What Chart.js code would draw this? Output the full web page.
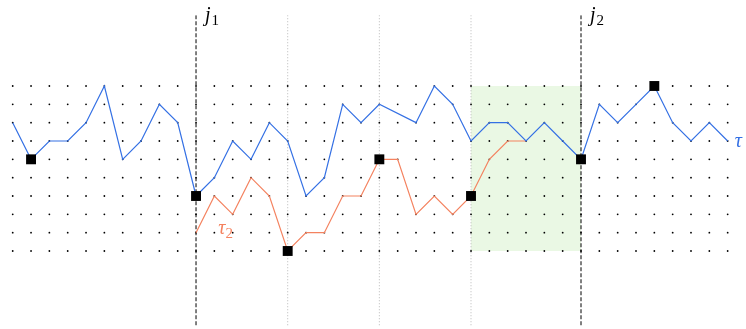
<!DOCTYPE html>
<html>
<head>
<meta charset="utf-8">
<script src="https://cdn.jsdelivr.net/npm/chart.js@4/dist/chart.umd.min.js"></script>
<style>
  html, body { margin: 0; padding: 0; background: #fff; }
  canvas { display: block; }
</style>
</head>
<body>
<canvas id="chart" width="746" height="329"></canvas>
<script>
// grid of dots: 40 columns, 10 rows
const nCols = 40;
const nRows = 10;

// path tau (blue), one value per column, null = no vertex there
const tauValues = [7, 5, 6, 6, 7, 9, 5, 6, 8, 7,
                   3, 4, 6, 5, 7, 6, 3, 4, 8, 7,
                   8, null, 7, 9, 8, 6, 7, 7, 6, 7,
                   6, 5, 8, 7, 8, 9, 7, 6, 7, 6];

// path tau_2 (orange), starts at column 10
const tau2Start = 10;
const tau2Values = [1, 3, 2, 4, 3, 0, 1, 1, 3, 3, 5, 5, 2, 3, 2, 3, 5, 6, 6];

// black squares [column, row]
const markers = [[1, 5], [10, 3], [15, 0], [20, 5], [25, 3], [31, 5], [35, 9]];

// vertical lines
const jCols = [10, 31];
const jLabels = ['1', '2'];
const dottedCols = [15, 20, 25];
const lineTop = 12.85;
const lineBottom = -4.05;

// shaded region
const regionCols = [25, 31];
const regionRows = [0, 9];

const gridDots = [];
for (let i = 0; i < nCols; i++) {
    for (let j = 0; j < nRows; j++) {
        gridDots.push({x: i, y: j});
    }
}

const tauData = tauValues.map((v, i) => ({x: i, y: v}));
const tau2Data = tau2Values.map((v, i) => ({x: tau2Start + i, y: v}));

function vLine(x) {
    return [{x: x, y: lineBottom}, {x: x, y: lineTop}];
}

const labelsPlugin = {
    id: 'labels',
    afterDatasetsDraw(chart) {
        const ctx = chart.ctx;
        const sx = chart.scales.x, sy = chart.scales.y;
        ctx.save();
        ctx.textBaseline = 'alphabetic';
        // j1, j2
        jCols.forEach((c, k) => {
            const px = sx.getPixelForValue(c) + 9;
            const py = sy.getPixelForValue(lineTop) + 6;
            ctx.fillStyle = '#000';
            ctx.font = 'italic 20px "Liberation Serif"';
            ctx.fillText('j', px, py);
            const w = ctx.measureText('j').width;
            ctx.font = '15px "Liberation Serif"';
            ctx.fillText(jLabels[k], px + w + 1, py + 4);
        });
        // tau label
        ctx.fillStyle = '#3470e4';
        ctx.font = 'italic 20px "Liberation Serif"';
        ctx.fillText('τ', sx.getPixelForValue(39) + 7, sy.getPixelForValue(6) + 6);
        // tau_2 label
        ctx.fillStyle = '#f4825f';
        const tx = sx.getPixelForValue(11) + 4, ty = sy.getPixelForValue(1) + 1;
        ctx.fillText('τ', tx, ty);
        const tw = ctx.measureText('τ').width;
        ctx.font = '15px "Liberation Serif"';
        ctx.fillText('2', tx + tw, ty + 4);
        ctx.restore();
    }
};

new Chart(document.getElementById('chart'), {
    type: 'line',
    data: {
        datasets: [
            {
                data: markers.map(m => ({x: m[0], y: m[1]})),
                showLine: false,
                pointStyle: 'rect',
                pointRadius: 7,
                pointBackgroundColor: '#000',
                pointBorderWidth: 0
            },
            {
                data: tauData,
                borderColor: '#3470e4',
                borderWidth: 1.2,
                spanGaps: true,
                pointRadius: 0,
                tension: 0
            },
            {
                data: tau2Data,
                borderColor: '#f4825f',
                borderWidth: 1.2,
                pointRadius: 0,
                tension: 0
            },
            {
                data: gridDots,
                showLine: false,
                pointRadius: 0.9,
                pointBackgroundColor: '#000',
                pointBorderWidth: 0
            },
            ...jCols.map(c => ({
                data: vLine(c),
                borderColor: '#000',
                borderWidth: 1,
                borderDash: [4, 2],
                pointRadius: 0
            })),
            ...dottedCols.map(c => ({
                data: vLine(c),
                borderColor: '#b8b8b8',
                borderWidth: 1,
                borderDash: [1, 2],
                pointRadius: 0
            })),
            {
                data: [{x: regionCols[0], y: regionRows[1]}, {x: regionCols[1], y: regionRows[1]}],
                borderWidth: 0,
                pointRadius: 0,
                backgroundColor: '#eaf8e4',
                fill: {value: regionRows[0]}
            }
        ]
    },
    options: {
        responsive: false,
        animation: false,
        layout: {padding: 0, autoPadding: false},
        clip: false,
        plugins: {
            legend: {display: false},
            tooltip: {enabled: false}
        },
        scales: {
            x: {type: 'linear', min: -0.693, max: 40.0, display: false},
            y: {type: 'linear', min: -4.255, max: 13.69, display: false}
        }
    },
    plugins: [labelsPlugin]
});
</script>
</body>
</html>
